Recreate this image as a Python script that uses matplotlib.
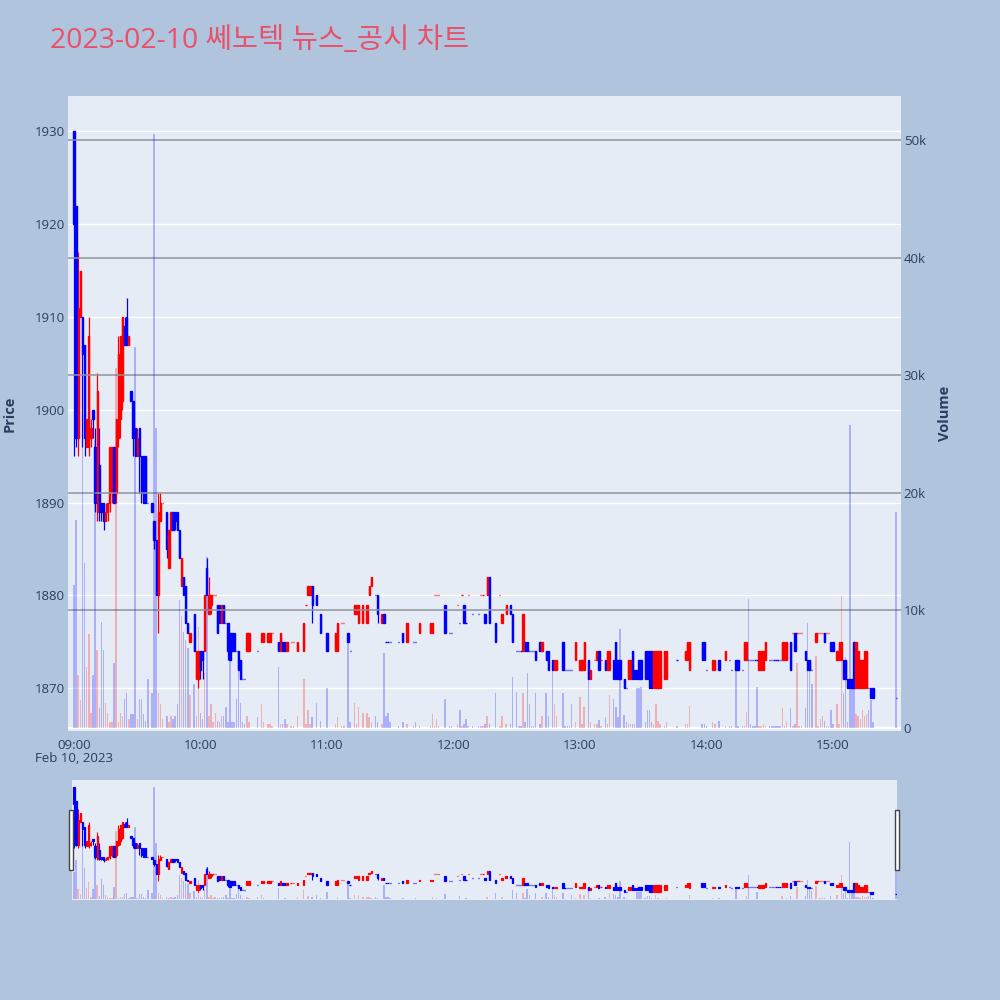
import matplotlib
matplotlib.use("Agg")
import matplotlib.pyplot as plt
from matplotlib.patches import Rectangle
import numpy as np

plt.rcParams["font.family"] = ["Open Sans", "Noto Sans CJK KR", "DejaVu Sans"]

TITLE = "2023-02-10 쎄노텍 뉴스_공시 차트"
DATE_LABEL = "Feb 10, 2023"
TIME_TICKS = [0, 60, 120, 180, 240, 300, 360]
TIME_LABELS = ["09:00", "10:00", "11:00", "12:00", "13:00", "14:00", "15:00"]
PRICE_TICKS = [1870, 1880, 1890, 1900, 1910, 1920, 1930]
VOLUME_TICKS = [10000, 20000, 30000, 40000, 50000]
VOLUME_LABELS = ["10k", "20k", "30k", "40k", "50k"]

# minutes after 09:00
minutes = [
    0, 1, 2, 3, 4, 5, 6, 7, 8, 9,
    10, 11, 12, 13, 14, 15, 16, 17, 18, 19,
    20, 21, 22, 23, 24, 25, 26, 27, 28, 29,
    30, 31, 32, 33, 34, 35, 37, 38, 39, 40,
    41, 42, 44, 45, 46, 47, 48, 49, 50, 51,
    52, 53, 54, 55, 57, 58, 59, 60, 61, 62,
    63, 64, 65, 66, 67, 68, 69, 70, 71, 72,
    73, 74, 75, 76, 77, 78, 79, 80, 81, 82,
    83, 87, 89, 90, 92, 93, 94, 97, 98, 99,
    100, 101, 103, 104, 106, 109, 110, 111, 112, 113,
    115, 117, 120, 124, 125, 127, 128, 130, 131, 133,
    134, 135, 137, 139, 140, 141, 143, 144, 146, 147,
    148, 149, 150, 154, 156, 158, 161, 162, 164, 169,
    170, 171, 172, 173, 176, 178, 179, 182, 183, 184,
    185, 186, 187, 189, 192, 193, 194, 195, 196, 197,
    200, 202, 203, 205, 207, 208, 210, 211, 212, 213,
    214, 215, 216, 217, 218, 219, 221, 222, 224, 225,
    227, 228, 229, 232, 233, 234, 235, 236, 238, 240,
    241, 242, 244, 245, 247, 248, 249, 250, 252, 253,
    254, 256, 257, 258, 259, 261, 262, 263, 264, 265,
    266, 267, 268, 269, 271, 272, 273, 274, 275, 276,
    277, 278, 280, 281, 286, 290, 291, 292, 298, 299,
    300, 303, 304, 306, 309, 311, 312, 314, 315, 317,
    318, 319, 320, 321, 322, 323, 324, 325, 326, 327,
    328, 330, 331, 332, 333, 334, 335, 336, 337, 338,
    340, 341, 342, 343, 344, 345, 347, 348, 349, 350,
    352, 353, 354, 355, 356, 357, 358, 359, 360, 362,
    363, 364, 365, 366, 367, 368, 369, 370, 371, 372,
    373, 374, 375, 376, 377, 378, 379, 390,
]
opens = [
    1930, 1922, 1897, 1910, 1910, 1907, 1896, 1896, 1897, 1900,
    1896, 1889, 1894, 1890, 1890, 1888, 1889, 1890, 1891, 1896,
    1891, 1897, 1899, 1901, 1909, 1910, 1907, 1902, 1901, 1898,
    1895, 1898, 1895, 1895, 1895, 1890, 1890, 1888, 1886, 1880,
    1888, 1890, 1889, 1883, 1887, 1889, 1889, 1889, 1887, 1881,
    1882, 1881, 1877, 1875, 1878, 1871, 1871, 1874, 1874, 1874,
    1883, 1878, 1879, 1880, 1880, 1879, 1879, 1877, 1879, 1877,
    1877, 1876, 1876, 1876, 1874, 1874, 1873, 1871, 1871, 1874,
    1874, 1874, 1875, 1875, 1875, 1875, 1876, 1875, 1874, 1875,
    1875, 1874, 1875, 1875, 1874, 1874, 1879, 1880, 1880, 1881,
    1880, 1878, 1876, 1874, 1874, 1877, 1877, 1876, 1874, 1878,
    1878, 1877, 1877, 1877, 1880, 1881, 1880, 1880, 1877, 1878,
    1875, 1875, 1875, 1875, 1876, 1875, 1875, 1875, 1876, 1876,
    1876, 1880, 1880, 1880, 1879, 1876, 1876, 1879, 1877, 1880,
    1879, 1877, 1880, 1878, 1878, 1880, 1880, 1878, 1880, 1882,
    1877, 1880, 1877, 1878, 1879, 1878, 1874, 1874, 1874, 1874,
    1875, 1875, 1874, 1874, 1874, 1874, 1875, 1874, 1874, 1874,
    1873, 1872, 1872, 1875, 1872, 1872, 1872, 1872, 1873, 1872,
    1872, 1872, 1873, 1871, 1873, 1873, 1874, 1873, 1873, 1872,
    1872, 1873, 1875, 1873, 1873, 1871, 1870, 1871, 1871, 1874,
    1872, 1872, 1873, 1873, 1874, 1874, 1874, 1874, 1870, 1870,
    1870, 1870, 1871, 1871, 1873, 1873, 1873, 1872, 1875, 1875,
    1872, 1872, 1872, 1873, 1873, 1873, 1872, 1873, 1873, 1872,
    1873, 1873, 1873, 1873, 1873, 1873, 1873, 1872, 1872, 1872,
    1873, 1873, 1873, 1873, 1873, 1873, 1873, 1873, 1873, 1873,
    1875, 1876, 1876, 1876, 1876, 1876, 1874, 1873, 1873, 1872,
    1875, 1876, 1876, 1876, 1876, 1876, 1876, 1875, 1875, 1873,
    1873, 1873, 1873, 1873, 1871, 1871, 1871, 1875, 1870, 1870,
    1870, 1870, 1870, 1870, 1870, 1870, 1870, 1869,
]
highs = [
    1930, 1922, 1917, 1915, 1910, 1907, 1899, 1910, 1899, 1900,
    1898, 1904, 1898, 1890, 1890, 1890, 1890, 1896, 1896, 1896,
    1899, 1908, 1908, 1910, 1910, 1912, 1908, 1902, 1901, 1898,
    1898, 1898, 1895, 1895, 1895, 1890, 1890, 1888, 1886, 1891,
    1891, 1890, 1889, 1887, 1889, 1889, 1889, 1889, 1887, 1884,
    1882, 1881, 1877, 1876, 1878, 1874, 1874, 1874, 1874, 1880,
    1884, 1882, 1880, 1880, 1880, 1879, 1879, 1879, 1879, 1877,
    1877, 1876, 1876, 1876, 1874, 1874, 1873, 1871, 1871, 1876,
    1876, 1874, 1876, 1876, 1876, 1876, 1876, 1875, 1876, 1875,
    1875, 1875, 1875, 1875, 1875, 1877, 1879, 1881, 1881, 1881,
    1880, 1878, 1876, 1876, 1877, 1877, 1877, 1876, 1874, 1879,
    1879, 1879, 1879, 1879, 1881, 1882, 1880, 1880, 1878, 1878,
    1875, 1875, 1875, 1875, 1876, 1877, 1875, 1875, 1877, 1877,
    1877, 1880, 1880, 1880, 1879, 1876, 1876, 1879, 1877, 1880,
    1879, 1877, 1880, 1878, 1878, 1880, 1880, 1878, 1882, 1882,
    1877, 1880, 1878, 1879, 1879, 1878, 1874, 1874, 1874, 1878,
    1875, 1875, 1874, 1874, 1874, 1874, 1875, 1875, 1874, 1874,
    1873, 1873, 1873, 1875, 1872, 1872, 1872, 1872, 1875, 1873,
    1873, 1875, 1873, 1872, 1873, 1874, 1874, 1873, 1873, 1874,
    1874, 1873, 1875, 1873, 1873, 1871, 1870, 1873, 1873, 1874,
    1872, 1872, 1873, 1873, 1874, 1874, 1874, 1874, 1874, 1874,
    1874, 1874, 1874, 1874, 1873, 1874, 1875, 1875, 1875, 1875,
    1872, 1873, 1873, 1873, 1874, 1873, 1872, 1873, 1873, 1872,
    1875, 1875, 1873, 1873, 1873, 1873, 1873, 1874, 1874, 1874,
    1875, 1873, 1873, 1873, 1873, 1873, 1873, 1875, 1875, 1875,
    1875, 1876, 1876, 1876, 1876, 1876, 1874, 1873, 1873, 1872,
    1876, 1876, 1876, 1876, 1876, 1876, 1876, 1875, 1875, 1874,
    1875, 1875, 1873, 1873, 1871, 1871, 1871, 1875, 1875, 1874,
    1873, 1873, 1874, 1874, 1870, 1870, 1870, 1869,
]
lows = [
    1895, 1896, 1895, 1910, 1896, 1895, 1896, 1895, 1896, 1897,
    1889, 1888, 1888, 1888, 1887, 1888, 1888, 1889, 1890, 1890,
    1890, 1896, 1897, 1900, 1907, 1907, 1907, 1901, 1895, 1895,
    1895, 1891, 1890, 1890, 1890, 1890, 1889, 1885, 1880, 1876,
    1888, 1890, 1884, 1883, 1887, 1887, 1887, 1887, 1884, 1881,
    1880, 1877, 1876, 1875, 1874, 1871, 1870, 1871, 1871, 1874,
    1880, 1878, 1878, 1880, 1880, 1876, 1877, 1877, 1877, 1877,
    1873, 1873, 1874, 1874, 1874, 1872, 1871, 1871, 1871, 1874,
    1874, 1874, 1875, 1875, 1875, 1875, 1876, 1874, 1874, 1874,
    1874, 1874, 1875, 1875, 1874, 1874, 1879, 1880, 1880, 1877,
    1879, 1876, 1874, 1874, 1874, 1877, 1877, 1875, 1874, 1878,
    1878, 1877, 1877, 1877, 1880, 1881, 1880, 1877, 1877, 1877,
    1875, 1875, 1875, 1875, 1875, 1875, 1875, 1875, 1876, 1876,
    1876, 1880, 1880, 1880, 1876, 1876, 1876, 1879, 1877, 1880,
    1877, 1877, 1880, 1878, 1878, 1880, 1880, 1877, 1880, 1877,
    1875, 1880, 1877, 1878, 1878, 1875, 1874, 1874, 1874, 1874,
    1874, 1874, 1874, 1874, 1874, 1873, 1874, 1874, 1873, 1872,
    1872, 1872, 1872, 1872, 1872, 1872, 1872, 1872, 1873, 1872,
    1872, 1872, 1871, 1871, 1873, 1873, 1872, 1873, 1872, 1872,
    1872, 1871, 1871, 1871, 1871, 1870, 1870, 1871, 1871, 1871,
    1871, 1871, 1871, 1871, 1871, 1871, 1870, 1870, 1870, 1870,
    1870, 1870, 1871, 1871, 1873, 1873, 1873, 1872, 1873, 1873,
    1872, 1872, 1872, 1872, 1873, 1873, 1872, 1872, 1872, 1872,
    1873, 1873, 1873, 1873, 1873, 1873, 1873, 1872, 1872, 1872,
    1873, 1873, 1873, 1873, 1873, 1873, 1873, 1873, 1873, 1873,
    1872, 1876, 1874, 1876, 1876, 1876, 1873, 1872, 1872, 1872,
    1875, 1876, 1876, 1876, 1875, 1876, 1876, 1874, 1874, 1873,
    1873, 1873, 1871, 1871, 1870, 1870, 1870, 1870, 1870, 1870,
    1870, 1870, 1870, 1870, 1870, 1869, 1869, 1869,
]
closes = [
    1920, 1897, 1911, 1915, 1906, 1897, 1899, 1908, 1898, 1899,
    1890, 1902, 1889, 1889, 1888, 1889, 1890, 1896, 1896, 1890,
    1899, 1906, 1908, 1910, 1907, 1907, 1908, 1901, 1897, 1895,
    1897, 1895, 1891, 1890, 1890, 1890, 1889, 1886, 1880, 1889,
    1890, 1890, 1885, 1887, 1889, 1887, 1888, 1887, 1884, 1884,
    1880, 1877, 1876, 1876, 1874, 1874, 1874, 1872, 1873, 1880,
    1880, 1880, 1880, 1880, 1880, 1876, 1877, 1879, 1877, 1877,
    1874, 1873, 1874, 1874, 1874, 1872, 1871, 1871, 1871, 1876,
    1876, 1874, 1876, 1876, 1876, 1876, 1876, 1874, 1876, 1874,
    1874, 1875, 1875, 1875, 1875, 1877, 1879, 1881, 1881, 1879,
    1879, 1876, 1874, 1876, 1877, 1877, 1877, 1875, 1874, 1879,
    1879, 1879, 1879, 1879, 1881, 1882, 1880, 1878, 1878, 1877,
    1875, 1875, 1875, 1875, 1875, 1877, 1875, 1875, 1877, 1877,
    1877, 1880, 1880, 1880, 1876, 1876, 1876, 1879, 1877, 1880,
    1877, 1877, 1880, 1878, 1878, 1880, 1880, 1877, 1882, 1877,
    1875, 1880, 1878, 1879, 1878, 1875, 1874, 1874, 1874, 1878,
    1874, 1874, 1874, 1874, 1874, 1873, 1874, 1875, 1873, 1872,
    1872, 1873, 1873, 1872, 1872, 1872, 1872, 1872, 1875, 1873,
    1873, 1875, 1871, 1872, 1873, 1874, 1872, 1873, 1872, 1874,
    1874, 1871, 1871, 1871, 1871, 1870, 1870, 1873, 1873, 1871,
    1871, 1871, 1871, 1871, 1871, 1871, 1870, 1870, 1874, 1874,
    1874, 1874, 1874, 1874, 1873, 1874, 1875, 1875, 1873, 1873,
    1872, 1873, 1873, 1872, 1874, 1873, 1872, 1872, 1872, 1872,
    1875, 1875, 1873, 1873, 1873, 1873, 1873, 1874, 1874, 1874,
    1875, 1873, 1873, 1873, 1873, 1873, 1873, 1875, 1875, 1875,
    1872, 1876, 1874, 1876, 1876, 1876, 1873, 1872, 1872, 1872,
    1876, 1876, 1876, 1876, 1875, 1876, 1876, 1874, 1874, 1874,
    1875, 1875, 1871, 1871, 1870, 1870, 1870, 1870, 1875, 1874,
    1873, 1873, 1874, 1874, 1870, 1869, 1869, 1869,
]
# traded volume, thousands of shares
volumes_k = [
    12.2, 17.7, 4.5, 2.4, 29.6, 14.0, 5.2, 8.0, 1.3, 4.5,
    24.5, 6.6, 1.7, 9.0, 6.6, 2.1, 1.3, 0.5, 0.5, 5.5,
    30.6, 0.5, 1.3, 1.0, 2.5, 3.0, 0.8, 1.2, 1.2, 32.4,
    0.8, 2.5, 2.5, 1.2, 0.6, 4.2, 3.0, 50.5, 25.5, 3.0,
    2.0, 0.8, 1.0, 0.5, 1.0, 0.8, 1.0, 2.0, 10.9, 9.5,
    8.2, 7.5, 6.8, 2.8, 3.7, 1.0, 8.6, 1.3, 0.8, 4.7,
    14.5, 1.0, 2.0, 0.5, 1.3, 0.6, 0.5, 1.0, 1.0, 1.8,
    0.5, 5.8, 0.5, 0.5, 2.5, 5.8, 2.1, 0.5, 0.3, 1.0,
    0.5, 0.9, 2.0, 0.5, 0.3, 0.3, 0.2, 5.2, 0.3, 0.3,
    0.8, 0.3, 0.2, 0.2, 1.0, 4.2, 0.3, 1.5, 0.3, 0.9,
    2.1, 0.6, 3.4, 0.3, 0.9, 0.2, 0.2, 7.9, 0.5, 2.1,
    0.3, 1.8, 1.3, 1.3, 0.9, 0.5, 1.0, 0.5, 0.3, 6.4,
    1.0, 1.3, 0.5, 0.2, 0.5, 0.3, 0.2, 0.5, 0.2, 0.2,
    1.2, 0.2, 0.8, 0.2, 2.5, 0.2, 0.2, 0.3, 1.5, 0.2,
    0.3, 0.8, 0.2, 0.2, 0.2, 0.2, 0.2, 0.3, 1.0, 0.3,
    3.0, 0.2, 1.0, 0.3, 0.3, 4.3, 3.1, 0.2, 0.2, 3.0,
    0.5, 4.7, 2.0, 0.2, 0.2, 3.0, 0.3, 1.0, 3.0, 1.0,
    4.9, 2.0, 1.0, 3.0, 0.2, 0.2, 0.2, 2.0, 0.5, 2.6,
    0.3, 1.8, 4.2, 0.5, 0.3, 0.3, 0.7, 0.2, 0.9, 0.3,
    2.8, 2.5, 1.8, 0.9, 8.4, 1.1, 0.5, 0.3, 0.3, 0.3,
    0.3, 3.4, 3.4, 3.5, 0.5, 1.5, 1.5, 0.5, 0.3, 2.0,
    0.6, 0.3, 0.2, 0.5, 0.2, 0.3, 0.3, 1.9, 0.3, 0.3,
    0.2, 0.5, 0.3, 0.6, 0.2, 0.2, 0.2, 5.1, 0.2, 0.2,
    0.2, 1.4, 11.0, 0.3, 0.2, 0.2, 3.5, 0.2, 0.2, 0.3,
    0.2, 0.2, 0.2, 0.2, 0.2, 0.2, 0.2, 1.7, 0.2, 0.6,
    1.7, 0.2, 0.3, 5.5, 0.2, 0.2, 1.7, 8.9, 5.1, 3.7,
    6.1, 0.2, 0.8, 1.0, 0.6, 0.2, 0.2, 1.5, 0.3, 2.0,
    0.3, 11.2, 3.0, 6.0, 0.5, 25.8, 3.5, 5.0, 1.2, 1.0,
    0.8, 1.5, 1.0, 1.2, 1.5, 2.4, 0.5, 18.4,
]

UP = "#FF0000"
DOWN = "#0000FF"
UP_VOL = (1.0, 0.0, 0.0, 0.25)
DOWN_VOL = (0.0, 0.0, 1.0, 0.25)
PAPER = "#B0C4DE"
PLOT_BG = "#E5ECF6"
TEXT = "#2A3F5F"


def directions(o, c):
    # plotly rule: ties look at the previous close, then keep the previous direction
    out = []
    prev_c, prev_up = None, False
    for oo, cc in zip(o, c):
        if cc > oo:
            up = True
        elif cc < oo:
            up = False
        elif prev_c is not None and cc > prev_c:
            up = True
        elif prev_c is not None and cc < prev_c:
            up = False
        else:
            up = prev_up
        out.append(up)
        prev_c, prev_up = cc, up
    return np.array(out)


def draw(ax, vax, x, o, h, l, c, v, up, edge_lw, wick_lw):
    col = np.where(up, UP, DOWN)
    vcol = [UP_VOL if u else DOWN_VOL for u in up]
    ax.vlines(x, l, h, colors=col, linewidth=wick_lw, zorder=2)
    ax.bar(x, np.abs(c - o), width=0.6, bottom=np.minimum(o, c), color=col,
           edgecolor=col, linewidth=edge_lw, zorder=3)
    vax.bar(x, v, width=0.7, color=vcol, linewidth=0, zorder=3)


def main() -> None:
    assert len({len(minutes), len(opens), len(highs), len(lows), len(closes), len(volumes_k)}) == 1
    x = np.array(minutes, dtype=float)
    o = np.array(opens, dtype=float)
    h = np.array(highs, dtype=float)
    l = np.array(lows, dtype=float)
    c = np.array(closes, dtype=float)
    v = np.array(volumes_k) * 1000
    up = directions(o, c)

    fig = plt.figure(figsize=(10, 10), dpi=100, facecolor=PAPER)
    fig.text(0.05, 0.959, TITLE, color="#E8516A", fontsize=20.5, va="center", ha="left")

    price_lim = (1865.4, 1933.8)
    vol_lim = (-255, 53740)

    ax = fig.add_axes([0.068, 0.269, 0.833, 0.635])
    ax.set_facecolor(PLOT_BG)
    vax = ax.twinx()
    vax.patch.set_visible(False)
    draw(ax, vax, x, o, h, l, c, v, up, edge_lw=1.0, wick_lw=0.9)
    ax.set_xlim(-2.85, 392.3)
    ax.set_ylim(*price_lim)
    vax.set_ylim(*vol_lim)

    ax.set_yticks(PRICE_TICKS)
    ax.grid(axis="y", color="white", linewidth=1.0)
    ax.set_axisbelow(True)
    ax.tick_params(axis="y", length=0, pad=2, labelsize=9.5, labelcolor=TEXT)
    ax.set_xticks(TIME_TICKS, TIME_LABELS)
    ax.tick_params(axis="x", length=0, pad=6, labelsize=9.5, labelcolor=TEXT)

    vax.set_yticks([0] + VOLUME_TICKS, ["0"] + VOLUME_LABELS)
    vax.tick_params(axis="y", length=0, pad=2, labelsize=9.5, labelcolor=TEXT)
    for t in VOLUME_TICKS:
        vax.axhline(t, color="#8E939B", linewidth=1.1, zorder=2.5)
    vax.axhline(0, color="white", linewidth=1.6, zorder=2.5)
    for a in (ax, vax):
        for s in a.spines.values():
            s.set_visible(False)

    fig.text(0.074, 1 - 0.758, DATE_LABEL, color=TEXT, fontsize=9.5, ha="center", va="center")
    fig.text(0.010, 1 - 0.414, "Price", color=TEXT, fontsize=10.5, weight="bold",
             rotation=90, ha="center", va="center")
    fig.text(0.945, 1 - 0.413, "Volume", color=TEXT, fontsize=10.5, weight="bold",
             rotation=90, ha="center", va="center")

    # range slider
    sax = fig.add_axes([0.072, 0.100, 0.825, 0.120])
    sax.set_facecolor(PLOT_BG)
    svax = sax.twinx()
    svax.patch.set_visible(False)
    draw(sax, svax, x, o, h, l, c, v, up, edge_lw=0.9, wick_lw=0.8)
    sax.set_xlim(-0.95, 390.45)
    sax.set_ylim(*price_lim)
    svax.set_ylim(*vol_lim)
    for a in (sax, svax):
        a.set_xticks([])
        a.set_yticks([])
        for s in a.spines.values():
            s.set_visible(False)
    for hx in (0.069, 0.895):
        fig.patches.append(Rectangle((hx, 1 - 0.870), 0.004, 0.060, transform=fig.transFigure,
                                     facecolor="white", edgecolor="#444444", linewidth=1.0))

    fig.savefig("out.png", dpi=100, facecolor=PAPER)
    plt.close(fig)


if __name__ == "__main__":
    main()
